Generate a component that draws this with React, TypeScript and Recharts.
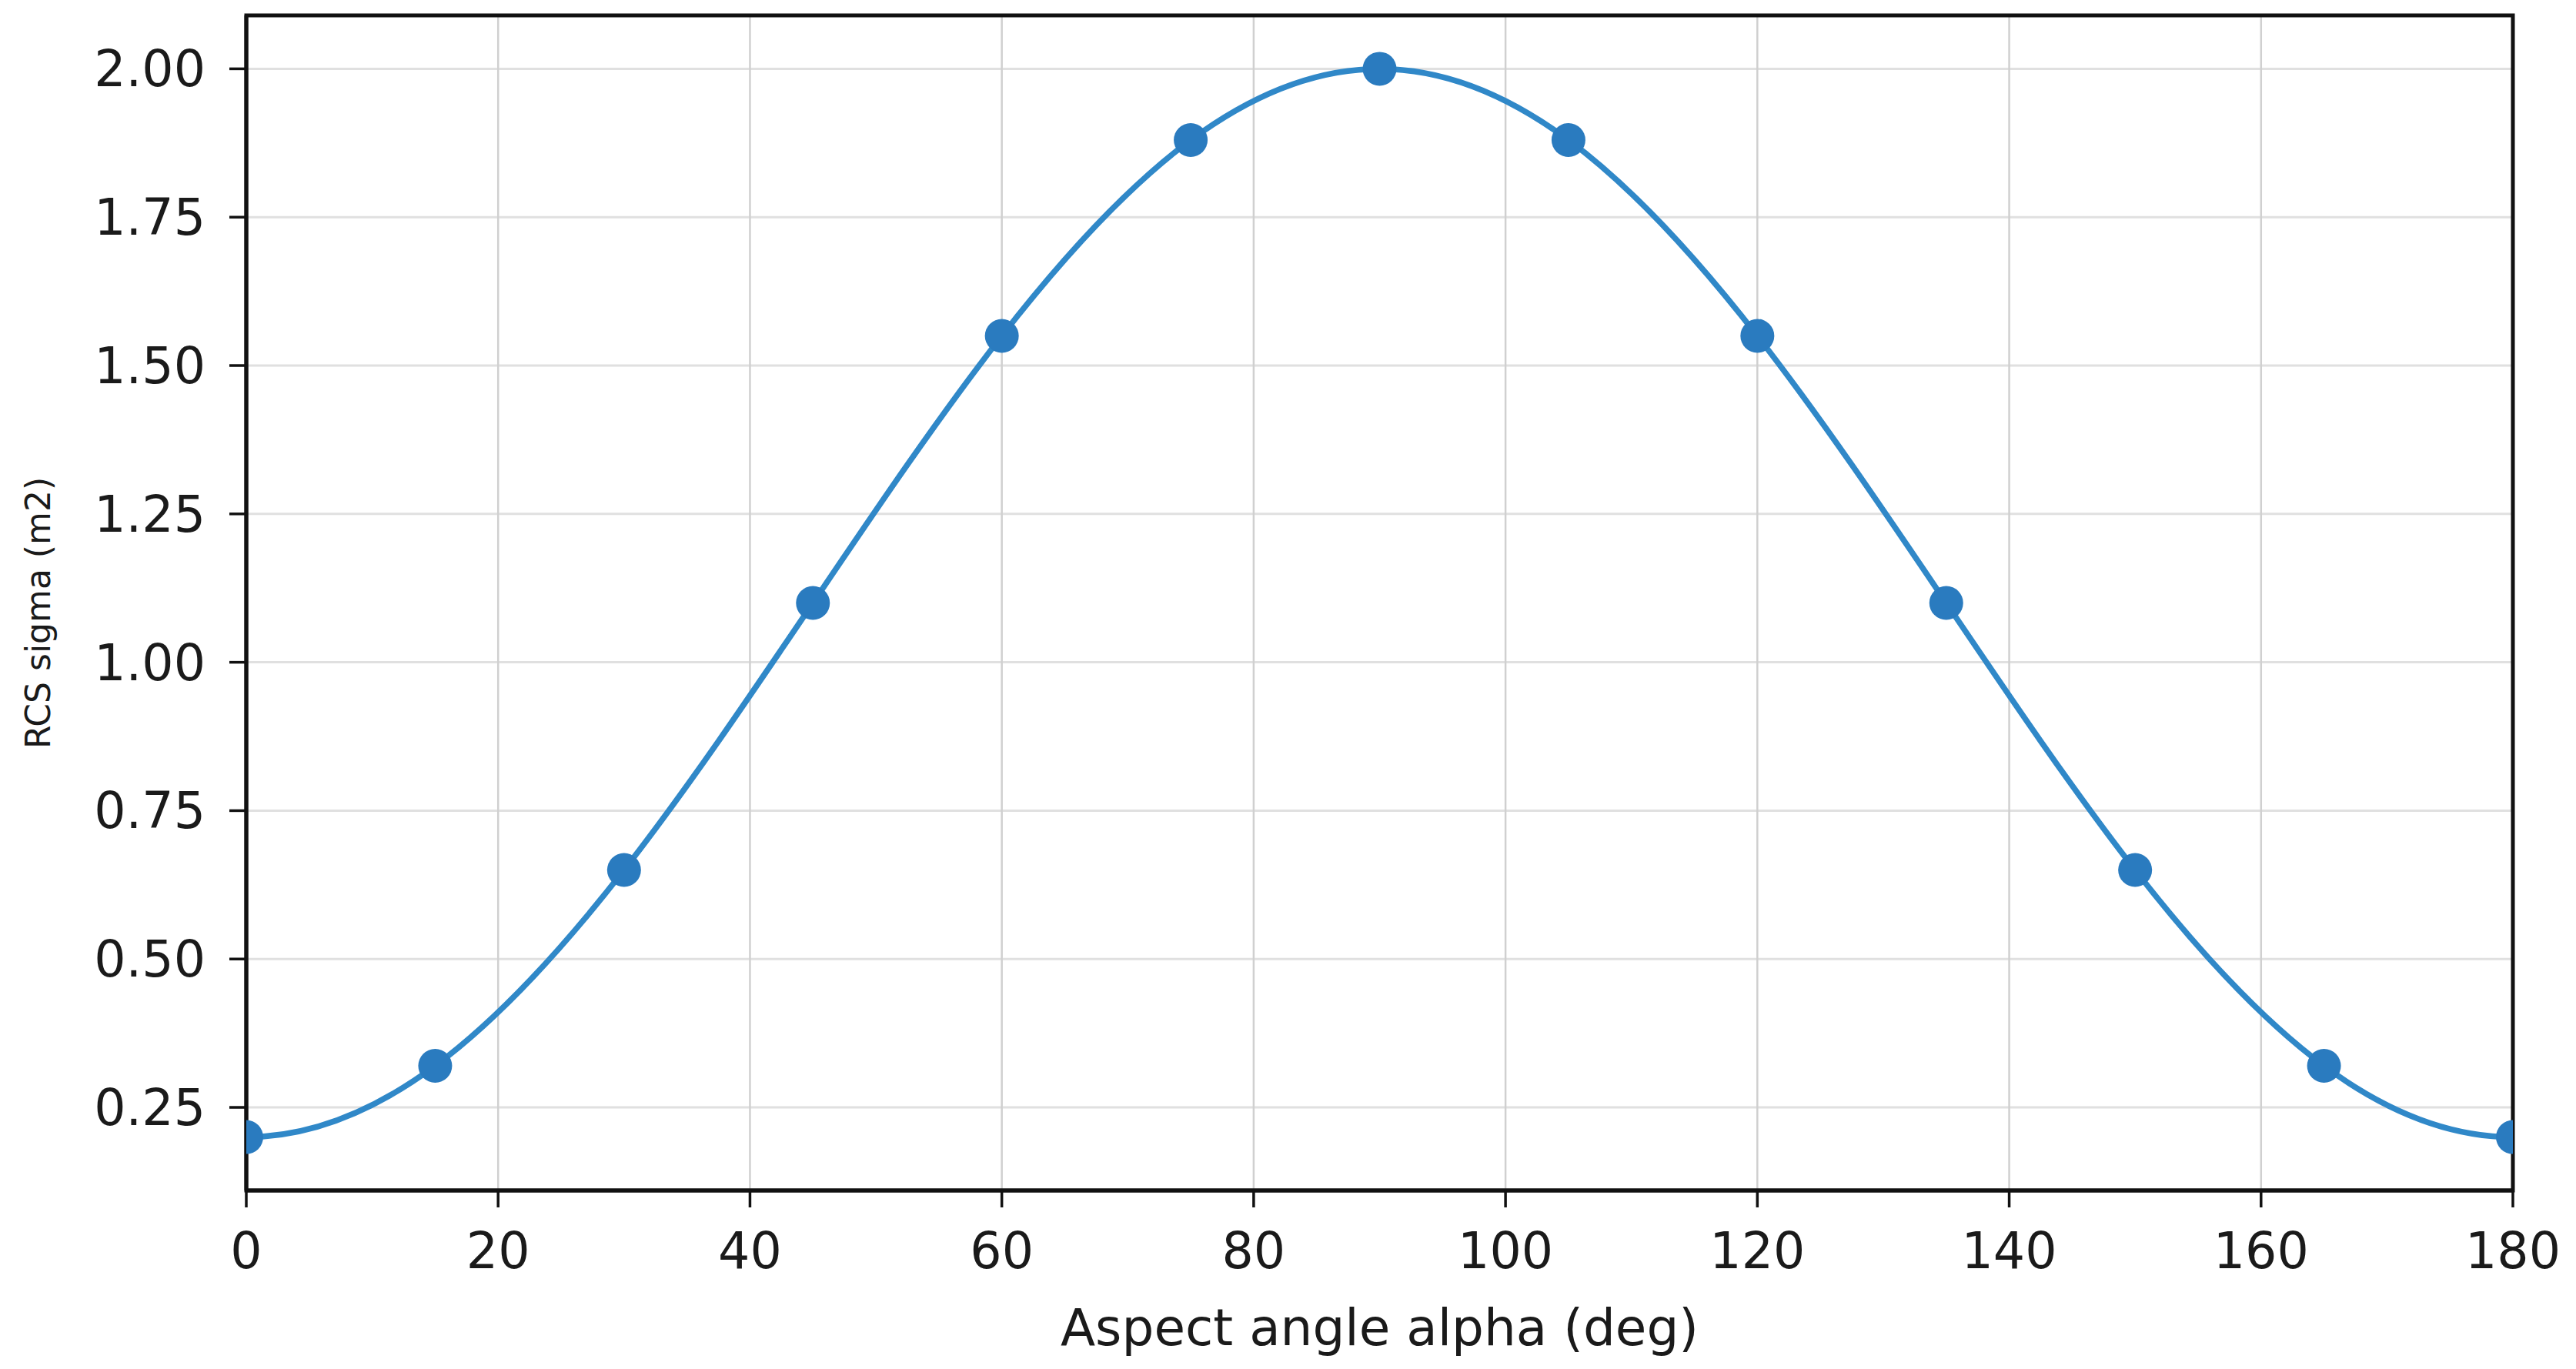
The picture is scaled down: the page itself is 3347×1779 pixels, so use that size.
import React from 'react';
import { LineChart, Line, XAxis, YAxis, CartesianGrid, ReferenceArea } from 'recharts';

// aspect angle (deg) and measured RCS (m2)
const angles = [0, 15, 30, 45, 60, 75, 90, 105, 120, 135, 150, 165, 180];
const sigma = [0.2, 0.32, 0.65, 1.1, 1.55, 1.88, 2.0, 1.88, 1.55, 1.1, 0.65, 0.32, 0.2];

const xTicks = [0, 20, 40, 60, 80, 100, 120, 140, 160, 180];
const yTicks = [0.25, 0.5, 0.75, 1.0, 1.25, 1.5, 1.75, 2.0];

const X_DOMAIN: [number, number] = [0, 180];
const Y_DOMAIN: [number, number] = [0.11, 2.09];

const FONT = '"DejaVu Sans", sans-serif';
const LINE_COLOR = '#3088c8';
const DOT_COLOR = '#2a7bbf';

const data = angles.map((a, i) => ({ alpha: a, sigma: sigma[i] }));

const tickStyle = { fontSize: 65, fill: '#1a1a1a', fontFamily: FONT };

// clamped cubic spline (flat ends) as a d3-style curve factory
function clampedSpline(context: any) {
  let xs: number[] = [];
  let ys: number[] = [];
  return {
    areaStart() {},
    areaEnd() {},
    lineStart() {
      xs = [];
      ys = [];
    },
    point(x: number, y: number) {
      xs.push(+x);
      ys.push(+y);
    },
    lineEnd() {
      const n = xs.length;
      if (n === 0) return;
      context.moveTo(xs[0], ys[0]);
      if (n === 1) return;
      const h: number[] = [];
      const d: number[] = [];
      for (let i = 0; i < n - 1; i++) {
        h.push(xs[i + 1] - xs[i]);
        d.push((ys[i + 1] - ys[i]) / h[i]);
      }
      // solve for slopes m with m[0] = m[n-1] = 0
      const m = new Array(n).fill(0);
      const k = n - 2;
      if (k > 0) {
        const a: number[] = [], b: number[] = [], c: number[] = [], r: number[] = [];
        for (let j = 0; j < k; j++) {
          const i = j + 1;
          a.push(h[i]);
          b.push(2 * (h[i - 1] + h[i]));
          c.push(h[i - 1]);
          r.push(3 * (h[i] * d[i - 1] + h[i - 1] * d[i]));
        }
        for (let j = 1; j < k; j++) {
          const w = a[j] / b[j - 1];
          b[j] -= w * c[j - 1];
          r[j] -= w * r[j - 1];
        }
        const sol = new Array(k).fill(0);
        sol[k - 1] = r[k - 1] / b[k - 1];
        for (let j = k - 2; j >= 0; j--) sol[j] = (r[j] - c[j] * sol[j + 1]) / b[j];
        for (let j = 0; j < k; j++) m[j + 1] = sol[j];
      }
      for (let i = 0; i < n - 1; i++) {
        const t = h[i] / 3;
        context.bezierCurveTo(
          xs[i] + t, ys[i] + m[i] * t,
          xs[i + 1] - t, ys[i + 1] - m[i + 1] * t,
          xs[i + 1], ys[i + 1]
        );
      }
    },
  };
}

export default function App() {
  return (
    <div style={{ width: 3347, height: 1779, background: '#fff' }}>
      <style>{`body{margin:0;background:#fff}`}</style>
      <LineChart
        width={3347}
        height={1779}
        data={data}
        margin={{ top: 20, right: 82, bottom: 0, left: 20 }}
      >
        <CartesianGrid horizontal={true} vertical={false} stroke="#e0e0e0" strokeWidth={3} />
        <CartesianGrid horizontal={false} vertical={true} stroke="#d0d0d0" strokeWidth={2.5} />
        <XAxis
          dataKey="alpha"
          type="number"
          domain={X_DOMAIN}
          ticks={xTicks}
          allowDataOverflow
          height={232}
          tickSize={22}
          tickMargin={33}
          tick={tickStyle}
          axisLine={{ stroke: '#111', strokeWidth: 5 }}
          tickLine={{ stroke: '#111', strokeWidth: 3.5 }}
          label={(props: any) => {
            const vb = props.viewBox;
            return (
              <text
                x={vb.x + vb.width / 2}
                y={vb.y + 201}
                textAnchor="middle"
                fontSize={66}
                fontFamily={FONT}
                fill="#1a1a1a"
              >
                Aspect angle alpha (deg)
              </text>
            );
          }}
        />
        <YAxis
          type="number"
          domain={Y_DOMAIN}
          ticks={yTicks}
          allowDataOverflow
          width={300}
          tickSize={22}
          tickMargin={31}
          tick={tickStyle}
          tickFormatter={(v: number) => v.toFixed(2)}
          axisLine={{ stroke: '#111', strokeWidth: 5 }}
          tickLine={{ stroke: '#111', strokeWidth: 3.5 }}
          label={(props: any) => {
            const vb = props.viewBox;
            const cx = vb.x + 45;
            const cy = vb.y + vb.height / 2 + 13;
            return (
              <text
                x={cx}
                y={cy}
                transform={`rotate(-90 ${cx} ${cy})`}
                textAnchor="middle"
                fontSize={44}
                fontFamily={FONT}
                fill="#1a1a1a"
              >
                RCS sigma (m2)
              </text>
            );
          }}
        />
        <Line
          type={clampedSpline as any}
          dataKey="sigma"
          stroke={LINE_COLOR}
          strokeWidth={7.5}
          dot={{ r: 22, fill: DOT_COLOR, stroke: 'none' }}
          activeDot={false}
          isAnimationActive={false}
        />
        <ReferenceArea
          x1={X_DOMAIN[0]}
          x2={X_DOMAIN[1]}
          y1={Y_DOMAIN[0]}
          y2={Y_DOMAIN[1]}
          fill="none"
          fillOpacity={0}
          stroke="#111"
          strokeWidth={5}
          ifOverflow="visible"
        />
      </LineChart>
    </div>
  );
}
